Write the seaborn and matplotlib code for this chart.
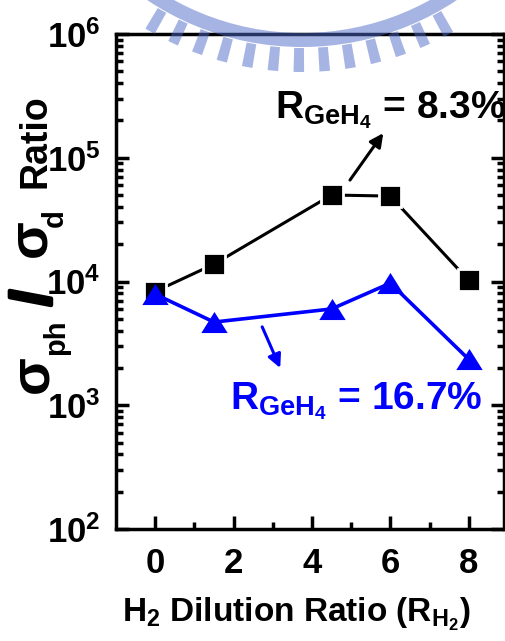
import matplotlib
matplotlib.use("Agg")
import matplotlib.pyplot as plt
import matplotlib.ticker as mticker
import matplotlib.patheffects as pe
from matplotlib.patches import Wedge
import numpy as np
import pandas as pd
import seaborn as sns

# ---- data ----
h2_dilution = [0, 1.5, 4.5, 6, 8]
ratio_83 = [8300, 13800, 50000, 49000, 10200]      # R_GeH4 = 8.3 %
ratio_167 = [7900, 4700, 6000, 9700, 2350]         # R_GeH4 = 16.7 %
x_ticks = [0, 2, 4, 6, 8]
y_ticks = [1e2, 1e3, 1e4, 1e5, 1e6]
y_ticklabels = [r"$\mathregular{10^{2}}$", r"$\mathregular{10^{3}}$",
                r"$\mathregular{10^{4}}$", r"$\mathregular{10^{5}}$",
                r"$\mathregular{10^{6}}$"]
label_83 = r"$\mathregular{R_{GeH_4}}$ = 8.3%"
label_167 = r"$\mathregular{R_{GeH_4}}$ = 16.7%"

df83 = pd.DataFrame({"x": h2_dilution, "y": ratio_83})
df167 = pd.DataFrame({"x": h2_dilution, "y": ratio_167})

sns.set_style("ticks")
plt.rcParams["font.family"] = ["Liberation Sans", "DejaVu Sans"]
plt.rcParams["font.weight"] = "bold"
plt.rcParams["mathtext.fontset"] = "custom"
plt.rcParams["mathtext.rm"] = "Liberation Sans:bold"
plt.rcParams["mathtext.bf"] = "Liberation Sans:bold"
plt.rcParams["mathtext.it"] = "Liberation Sans:bold"
for k in ["text.color", "axes.labelcolor", "xtick.color", "ytick.color",
          "axes.edgecolor"]:
    plt.rcParams[k] = "black"

W, H = 505, 641
fig = plt.figure(figsize=(W / 100, H / 100), dpi=100)
ax = fig.add_axes([116 / W, 1 - 529 / H, 388 / W, (529 - 34) / H])
ax.set_facecolor("white")

BLUE = "#0000ff"
sns.lineplot(data=df83, x="x", y="y", ax=ax, color="black", lw=2.2,
             sort=False, estimator=None, zorder=3)
sns.lineplot(data=df83, x="x", y="y", ax=ax, color="black", lw=0,
             marker="s", markersize=16, markeredgecolor="white",
             markeredgewidth=2.0, sort=False, estimator=None, zorder=4)
tri = [(0, 0.8), (-1, -0.8), (1, -0.8)]
sns.lineplot(data=df167, x="x", y="y", ax=ax, color=BLUE, lw=2.6,
             marker=tri, markersize=19, markeredgewidth=0,
             sort=False, estimator=None, zorder=5)

ax.set_yscale("log")
ax.set_xlim(-1, 8.9)
ax.set_ylim(1e2, 1e6)
ax.set_xticks(x_ticks)
ax.xaxis.set_minor_locator(mticker.FixedLocator([1, 3, 5, 7]))
ax.set_yticks(y_ticks)
ax.set_yticklabels(y_ticklabels)
ax.yaxis.set_minor_locator(mticker.LogLocator(base=10, subs=np.arange(2, 10)))
ax.yaxis.set_minor_formatter(mticker.NullFormatter())
ax.set_xlabel("")
ax.set_ylabel("")

for s in ax.spines.values():
    s.set_visible(True)
    s.set_linewidth(2.5)
    s.set_color("black")
ax.tick_params(which="major", direction="in", length=9.5, width=2.5,
               left=True, right=True, bottom=True, top=False, color="black")
ax.tick_params(which="minor", direction="in", length=5, width=2.5,
               left=True, right=True, bottom=True, top=False, color="black")
ax.tick_params(axis="x", which="major", labelsize=25, pad=13)
ax.tick_params(axis="y", which="major", labelsize=25, pad=11)
for lab in ax.get_xticklabels() + ax.get_yticklabels():
    lab.set_fontweight("bold")
    lab.set_color("black")

# x label
fig.text(296 / W, 1 - 622 / H,
         r"$\mathregular{H_2}$ Dilution Ratio ($\mathregular{R_{H_2}}$)",
         ha="center", va="baseline", fontsize=24, fontweight="bold")

# y label pieces (rotated)
def ytxt(x, y, s, size, **kw):
    fig.text(x / W, 1 - y / H, s, rotation=90, rotation_mode="anchor",
             ha="center", va="baseline", fontsize=size, fontweight="bold", **kw)

ytxt(45, 141, "Ratio", 27)
ytxt(45, 238, "σ", 40)
ytxt(63, 218, "d", 21)
ytxt(50, 298, "/", 40,
     path_effects=[pe.withStroke(linewidth=3, foreground="black")])
ytxt(47, 374, "σ", 40)
ytxt(64, 337, "ph", 21)

# annotations
ax.text(3.06, 2.09e5, label_83, color="black", fontsize=28,
        fontweight="bold", ha="left", va="baseline")
ax.annotate("", xy=(5.82, 1.58e5), xytext=(4.97, 6.6e4),
            arrowprops=dict(arrowstyle="-|>", color="black", lw=2.2,
                            mutation_scale=20, shrinkA=0, shrinkB=0))
ax.text(1.91, 919, label_167, color=BLUE, fontsize=28,
        fontweight="bold", ha="left", va="baseline")
ax.annotate("", xy=(3.19, 2000), xytext=(2.73, 4300),
            arrowprops=dict(arrowstyle="-|>", color=BLUE, lw=2.2,
                            mutation_scale=20, shrinkA=0, shrinkB=0))

# faint watermark logo at the top (decoration)
wm_color = (0.30, 0.42, 0.78)
cx, cy = 302, H + 232
band = Wedge((cx, cy), 279, 180, 360, width=14, transform=None,
             facecolor=wm_color, edgecolor="none", alpha=0.5, zorder=20)
fig.patches.append(band)
for ang in np.arange(270 - 30, 270 + 30.1, 4.9):
    tooth = Wedge((cx, cy), 304, ang - 1.0, ang + 1.0, width=24,
                  transform=None, facecolor=wm_color, edgecolor="none",
                  alpha=0.5, zorder=20)
    fig.patches.append(tooth)

fig.savefig("out.png", dpi=100)
